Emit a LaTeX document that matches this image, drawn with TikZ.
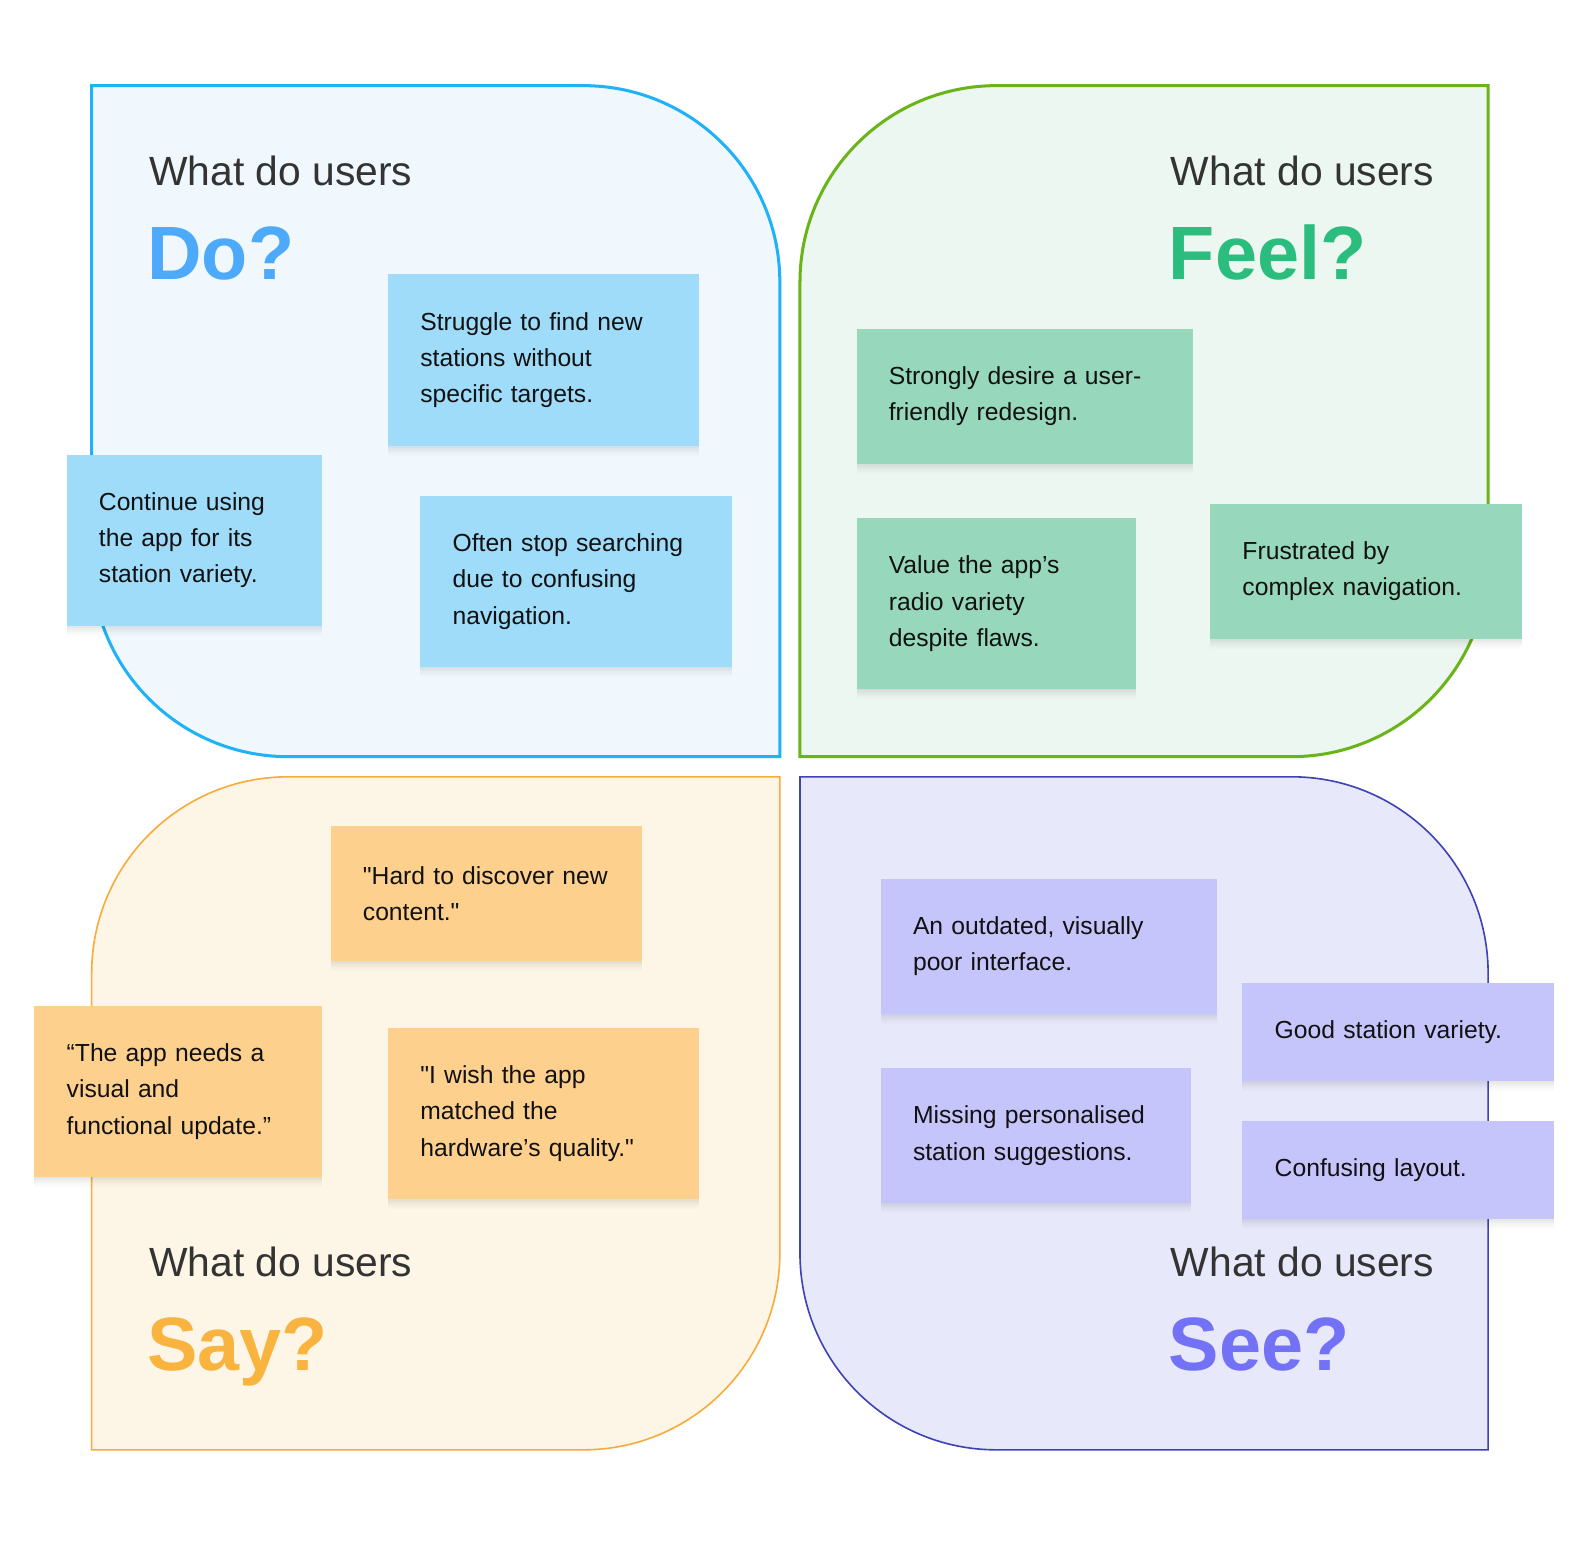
\documentclass[tikz,border=0pt]{standalone}
\usepackage{fontspec}
\setmainfont{Liberation Sans}[Ligatures=TeXOff]
\usetikzlibrary{shadows}
\definecolor{doBorder}{HTML}{1FB2F6}
\definecolor{doFill}{HTML}{F0F8FE}
\definecolor{doNote}{HTML}{9EDCFA}
\definecolor{doHead}{HTML}{4DAAFA}
\definecolor{feBorder}{HTML}{6AB41A}
\definecolor{feFill}{HTML}{EDF7F1}
\definecolor{feNote}{HTML}{97D8BC}
\definecolor{feHead}{HTML}{2BBD7E}
\definecolor{saBorder}{HTML}{F9AB3A}
\definecolor{saFill}{HTML}{FDF6E7}
\definecolor{saNote}{HTML}{FDD08E}
\definecolor{saHead}{HTML}{F9B33F}
\definecolor{seBorder}{HTML}{3E42B5}
\definecolor{seFill}{HTML}{E7E8F9}
\definecolor{seNote}{HTML}{C5C5FC}
\definecolor{seHead}{HTML}{7371F6}
\definecolor{askText}{HTML}{333333}
\definecolor{noteText}{HTML}{111111}
\begin{document}
\begin{tikzpicture}[x=1pt,y=-1pt,
  quad/.style={line join=miter},
  ask/.style={anchor=base west, inner sep=0pt, text=askText, font=\fontsize{40.5}{44}\selectfont},
  big/.style={anchor=base west, inner sep=0pt, font=\fontsize{75}{80}\selectfont\bfseries},
  note/.style={anchor=north west, inner xsep=32pt, inner ysep=0pt, align=left,
    text=noteText, font=\fontsize{24.5}{36}\selectfont,
    drop shadow={shadow xshift=0pt, shadow yshift=-2pt, opacity=0.025, fill=black},
    drop shadow={shadow xshift=0pt, shadow yshift=-4pt, opacity=0.025, fill=black},
    drop shadow={shadow xshift=0pt, shadow yshift=-6pt, opacity=0.02, fill=black},
    drop shadow={shadow xshift=0pt, shadow yshift=-8pt, opacity=0.015, fill=black},
    drop shadow={shadow xshift=0pt, shadow yshift=-10pt, opacity=0.01, fill=black}},
]
\fill[white] (0,0) rectangle (1580,1556);

% Quadrants
\draw[quad, draw=doBorder, fill=doFill, line width=3pt]
  (91,85) -- (579,85) .. controls (686.7,85) and (774,172.3) .. (774,280)
  -- (774,751) -- (286,751) .. controls (178.3,751) and (91,663.7) .. (91,556) -- cycle;
\draw[quad, draw=feBorder, fill=feFill, line width=3pt]
  (989,85) -- (1477,85) -- (1477,556) .. controls (1477,663.7) and (1389.7,751) .. (1282,751)
  -- (794,751) -- (794,280) .. controls (794,172.3) and (881.3,85) .. (989,85) -- cycle;
\draw[quad, draw=saBorder, fill=saFill, line width=1.6pt]
  (286,771) -- (774,771) -- (774,1244) .. controls (774,1351.7) and (686.7,1439) .. (579,1439)
  -- (91,1439) -- (91,966) .. controls (91,858.3) and (178.3,771) .. (286,771) -- cycle;
\draw[quad, draw=seBorder, fill=seFill, line width=1.6pt]
  (794,771) -- (1282,771) .. controls (1389.7,771) and (1477,858.3) .. (1477,966)
  -- (1477,1439) -- (989,1439) .. controls (881.3,1439) and (794,1351.7) .. (794,1244) -- cycle;

% Headings
\node[ask] (doAsk) at (148,184) {What do users};
\node[big, text=doHead] (doBig) at (146,277) {Do?};
\node[ask] (feAsk) at (1162,184) {What do users};
\node[big, text=feHead] (feBig) at (1160,277) {Feel?};
\node[ask] (saAsk) at (148,1267) {What do users};
\node[big, text=saHead] (saBig) at (146,1360) {Say?};
\node[ask] (seAsk) at (1162,1267) {What do users};
\node[big, text=seHead] (seBig) at (1160,1360) {See?};

% Do notes
\node[note, fill=doNote, minimum width=309pt, minimum height=170pt, text width=245pt] (d1) at (385,272)
  {Struggle to find new\\stations without\\specific targets.};
\node[note, fill=doNote, minimum width=253pt, minimum height=170pt, text width=189pt] (d2) at (66,451)
  {Continue using\\the app for its\\station variety.};
\node[note, fill=doNote, minimum width=309pt, minimum height=170pt, text width=245pt] (d3) at (417,492)
  {Often stop searching\\due to confusing\\navigation.};

% Feel notes
\node[note, fill=feNote, minimum width=334pt, minimum height=134pt, text width=270pt] (f1) at (850,326)
  {Strongly desire a user-\\friendly redesign.};
\node[note, fill=feNote, minimum width=277pt, minimum height=170pt, text width=213pt] (f2) at (850,514)
  {Value the app’s\\radio variety\\despite flaws.};
\node[note, fill=feNote, minimum width=309pt, minimum height=134pt, text width=245pt] (f3) at (1201,500)
  {Frustrated by\\complex navigation.};

% Say notes
\node[note, fill=saNote, minimum width=309pt, minimum height=134pt, text width=245pt] (s1) at (328,820)
  {"Hard to discover new\\content."};
\node[note, fill=saNote, minimum width=285pt, minimum height=170pt, text width=221pt] (s2) at (34,998)
  {“The app needs a\\visual and\\functional update.”};
\node[note, fill=saNote, minimum width=309pt, minimum height=170pt, text width=245pt] (s3) at (385,1020)
  {"I wish the app\\matched the\\hardware’s quality."};

% See notes
\node[note, fill=seNote, minimum width=334pt, minimum height=134pt, text width=270pt] (p1) at (874,872)
  {An outdated, visually\\poor interface.};
\node[note, fill=seNote, minimum width=309pt, minimum height=98pt, text width=245pt] (p2) at (1233,975)
  {Good station variety.};
\node[note, fill=seNote, minimum width=308pt, minimum height=134pt, text width=244pt] (p3) at (874,1060)
  {Missing personalised\\station suggestions.};
\node[note, fill=seNote, minimum width=309pt, minimum height=98pt, text width=245pt] (p4) at (1233,1112)
  {Confusing layout.};

\pgfresetboundingbox
\path[use as bounding box] (0,0) rectangle (1568.2,1544.4);
\end{tikzpicture}
\end{document}
